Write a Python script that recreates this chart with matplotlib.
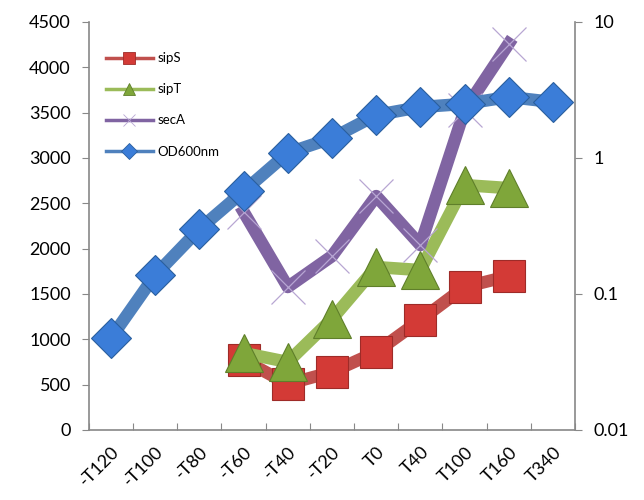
import matplotlib
matplotlib.use('Agg')
import matplotlib.pyplot as plt
from matplotlib.lines import Line2D

plt.rcParams['font.family'] = ['Lato', 'DejaVu Sans']

labels = ['-T120', '-T100', '-T80', '-T60', '-T40', '-T20', 'T0', 'T40', 'T100', 'T160', 'T340']
sipS = [None, None, None, 772, 507, 640, 860, 1213, 1577, 1698, None]
sipT = [None, None, None, 849, 750, 1224, 1797, 1764, 2701, 2668, None]
secA = [None, None, None, 2406, 1577, 1918, 2580, 2040, 3528, 4262, None]
od600 = [0.0475, 0.138, 0.30, 0.57, 1.09, 1.40, 2.07, 2.37, 2.5, 2.81, 2.58]

styles = {
    'sipS': dict(color='#C0504D', marker='s', mfc='#D33A36', mec='#9E2B28'),
    'sipT': dict(color='#9BBB59', marker='^', mfc='#7FA63A', mec='#5F7F2A'),
    'secA': dict(color='#8064A2', marker='x', mfc='#B8A6D3', mec='#B8A6D3'),
    'OD600nm': dict(color='#4F81BD', marker='D', mfc='#3B7DD8', mec='#2A5F9E'),
}


def pts(vals):
    xs = [i for i, v in enumerate(vals) if v is not None]
    ys = [v for v in vals if v is not None]
    return xs, ys


fig = plt.figure(figsize=(6.44, 5), dpi=100)
ax = fig.add_axes([0.138, 0.14, 0.755, 0.816])
ax2 = ax.twinx()

x, y = pts(sipS)
ax.plot(x, y, lw=9, ms=23, mew=0.8, zorder=2, **styles['sipS'])
x, y = pts(sipT)
ax.plot(x, y, lw=9, ms=27, mew=0.8, zorder=3, **styles['sipT'])
x, y = pts(secA)
ax.plot(x, y, lw=9, ms=25, mew=0.9, zorder=4, **styles['secA'])
ax2.plot(range(len(od600)), od600, lw=9, ms=20, mew=0.8, zorder=5,
         **styles['OD600nm'])

ax.set_xlim(-0.5, len(labels) - 0.5)
ax.set_ylim(0, 4500)
ax.set_yticks(range(0, 4501, 500))
ax2.set_yscale('log')
ax2.set_ylim(0.01, 10)
ax2.set_yticks([0.01, 0.1, 1, 10])
ax2.set_yticklabels(['0.01', '0.1', '1', '10'])
ax2.minorticks_off()

ax.set_xticks([i - 0.5 for i in range(len(labels) + 1)], minor=False)
ax.set_xticklabels([])
ax.set_xticks(range(len(labels)), minor=True)
ax.set_xticklabels(labels, minor=True, rotation=45, ha='right',
                   rotation_mode='anchor', fontsize=13)
ax.tick_params(axis='x', which='minor', length=0, pad=10)
ax.tick_params(axis='x', which='major', direction='in', length=5, color='#888888')

for a in (ax, ax2):
    for s in a.spines.values():
        s.set_visible(False)
ax.spines['left'].set_visible(True)
ax.spines['bottom'].set_visible(True)
ax2.spines['right'].set_visible(True)
for s in (ax.spines['left'], ax.spines['bottom'], ax2.spines['right']):
    s.set_color('#888888')
    s.set_linewidth(1.2)

ax.tick_params(axis='y', direction='out', length=5, color='#888888',
               labelsize=13, pad=8)
ax2.tick_params(axis='y', direction='out', length=5, color='#888888',
                labelsize=13, pad=8)

handles = []
for name, st in styles.items():
    handles.append(Line2D([], [], lw=2.5, ms=8 if st['marker'] != '^' else 9,
                          mew=0.6, label=name, **st))
ax2.legend(handles=handles, loc='upper left', bbox_to_anchor=(0.01, 0.955),
           frameon=False, fontsize=9.5, handlelength=3.6, labelspacing=1.45,
           handletextpad=0.3)

fig.savefig('out.png', dpi=100)
